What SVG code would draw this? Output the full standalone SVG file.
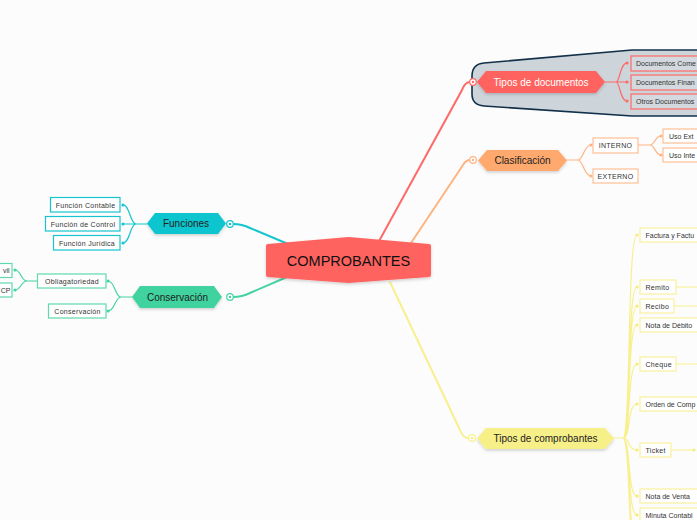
<svg xmlns="http://www.w3.org/2000/svg" width="697" height="520" viewBox="0 0 697 520">
<defs>
<filter id="sh" x="-20%" y="-30%" width="140%" height="170%">
<feDropShadow dx="0" dy="1.5" stdDeviation="1.5" flood-color="#000" flood-opacity="0.18"/>
</filter>
<style>
text{font-family:"Liberation Sans",Arial,sans-serif;fill:#333;}
.big{font-size:10px;text-anchor:middle;dominant-baseline:central;}
.sm{font-size:7px;letter-spacing:0.3px;dominant-baseline:central;}
.e{letter-spacing:0px;}
.c{text-anchor:middle;}
.ln{fill:none;stroke-width:1.2;stroke-linecap:round;}
.mn{fill:none;stroke-width:2;stroke-linecap:round;}
.r{stroke:#ff6a67;} .o{stroke:#ffb383;} .t{stroke:#14c5cf;} .g{stroke:#46d3a2;} .y{stroke:#f8f08e;}
.bx{stroke-width:1.2;}
.port{fill:#fff;stroke-width:1.2;}
</style>
</defs>
<rect width="697" height="520" fill="#fcfcfc"/>

<path d="M700,50 L632,50 L484,63 Q472,64 472,76 L472,94 Q472,105 484,106 L632,116 L700,116" fill="#cdd4da" stroke="#12304a" stroke-width="1.6"/>

<g id="connectors">
<path class="mn r" d="M378,243 L462,90 Q465,82 470,82"/>
<path class="mn o" d="M411,243 L463,165 Q466,160 470,160"/>
<path class="mn y" d="M390,282 L460,430 Q463,438 468,438"/>
<path class="mn t" d="M233,224 Q242,224 250,228 L288,244"/>
<path class="mn g" d="M233,297 Q242,297 250,293 L287,277"/>
<path class="ln r" d="M605,82 H616 M616,82 C620,82 620,63 627,63 M616,82 H627 M616,82 C620,82 620,101 627,101"/>
<path class="ln o" d="M567,160 H578 C583,160 584,145 591,145 M578,160 C583,160 584,176 591,176"/>
<path class="ln o" d="M638,145 H650 C655,145 655,136 661,136 M650,145 C655,145 655,155 661,155"/>
<path class="ln t" d="M147,224 H136 C130,224 130,205 123,205 M136,224 H123 M136,224 C130,224 130,243 123,243"/>
<path class="ln g" d="M132,297 H121 C115,297 115,281 108,281 M121,297 C115,297 115,311 108,311"/>
<path class="ln g" d="M37,281 H27 C21,281 21,270 15,270 M27,281 C21,281 21,290 15,290"/>
<path class="ln y" d="M614,438 H623 M623,438 C631,438 627,235 637,235 M623,438 C631,438 627,287 637,287 M623,438 C631,438 627,306 637,306 M623,438 C631,438 627,325 637,325 M623,438 C631,438 627,364 637,364 M623,438 C631,438 627,404 637,404 M623,438 C631,438 627,450 637,450 M623,438 C631,438 627,496 637,496 M623,438 C631,438 627,515 637,515 M623,438 C631,438 627,540 637,540 M623,438 C631,438 627,560 637,560"/>
<path class="ln y" d="M676,287 H697 M674,306 H697 M676,364 H697 M671,450 H694"/>
<g fill="#ff6a67"><circle cx="627" cy="63" r="1.6"/><circle cx="627" cy="82" r="1.6"/><circle cx="627" cy="101" r="1.6"/></g>
<g fill="#ffb383"><circle cx="591" cy="145" r="1.6"/><circle cx="591" cy="176" r="1.6"/><circle cx="661" cy="136" r="1.6"/><circle cx="661" cy="155" r="1.6"/></g>
<g fill="#14c5cf"><circle cx="123" cy="205" r="1.6"/><circle cx="123" cy="224" r="1.6"/><circle cx="123" cy="243" r="1.6"/></g>
<g fill="#46d3a2"><circle cx="108" cy="281" r="1.6"/><circle cx="108" cy="311" r="1.6"/><circle cx="15" cy="270" r="1.6"/><circle cx="15" cy="290" r="1.6"/></g>
<g fill="#f5ec7a"><circle cx="637" cy="235" r="1.6"/><circle cx="637" cy="287" r="1.6"/><circle cx="637" cy="306" r="1.6"/><circle cx="637" cy="325" r="1.6"/><circle cx="637" cy="364" r="1.6"/><circle cx="637" cy="404" r="1.6"/><circle cx="637" cy="450" r="1.6"/><circle cx="637" cy="496" r="1.6"/><circle cx="637" cy="515" r="1.6"/><circle cx="694" cy="450" r="1.6"/></g>
<circle class="port r" cx="473" cy="82" r="3.3"/><circle cx="473" cy="82" r="1.2" fill="#ff6a67"/>
<circle class="port o" cx="473" cy="160" r="3.3"/><circle cx="473" cy="160" r="1.2" fill="#ffb383"/>
<circle class="port t" cx="230" cy="224" r="3.3"/><circle cx="230" cy="224" r="1.2" fill="#14c5cf"/>
<circle class="port g" cx="230" cy="297" r="3.3"/><circle cx="230" cy="297" r="1.2" fill="#46d3a2"/>
<circle class="port y" cx="472" cy="438" r="3.3"/><circle cx="472" cy="438" r="1.2" fill="#f5ec7a"/>
</g>

<g id="comprobantes">
<path d="M268,246 L348.5,239 L429,246 L429,275 L348.5,281 L268,275 Z" fill="#ff6361" stroke="#ff6361" stroke-width="4" stroke-linejoin="round" filter="url(#sh)"/>
<text x="348.5" y="260.5" text-anchor="middle" dominant-baseline="central" font-size="14.5" style="fill:#111">COMPROBANTES</text>
</g>

<g id="tipos-documentos">
<path d="M477,82 L486,71 L596,71 L605,82 L596,93 L486,93 Z" fill="#ff6361" filter="url(#sh)"/>
<text class="big" x="541" y="82" style="fill:#fff">Tipos de documentos</text>
</g>
<g id="doc-comerciales"><rect class="bx" x="631" y="56" width="80" height="15" fill="#d3d9de" stroke="#ff6a67"/><text class="sm e" x="636" y="63.5">Documentos Come</text></g>
<g id="doc-financieros"><rect class="bx" x="631" y="75" width="80" height="15" fill="#d3d9de" stroke="#ff6a67"/><text class="sm e" x="636" y="82.5">Documentos Finan</text></g>
<g id="doc-otros"><rect class="bx" x="631" y="94" width="80" height="15" fill="#d3d9de" stroke="#ff6a67"/><text class="sm e" x="636" y="101.5">Otros Documentos</text></g>

<g id="clasificacion">
<path d="M478,160.5 L487,150 L558,150 L567,160.5 L558,171 L487,171 Z" fill="#ffa96e" filter="url(#sh)"/>
<text class="big" x="522.5" y="160.5" style="fill:#222">Clasificación</text>
</g>
<g id="interno"><rect class="bx" x="593" y="138" width="45" height="15" fill="#fff" stroke="#ffbf96"/><text class="sm c" x="615.5" y="145.5">INTERNO</text></g>
<g id="externo"><rect class="bx" x="593" y="169" width="45" height="14" fill="#fff" stroke="#ffbf96"/><text class="sm c" x="615.5" y="176">EXTERNO</text></g>
<g id="uso-externo"><rect class="bx" x="663" y="129" width="50" height="14" fill="#fff" stroke="#ffbf96"/><text class="sm e" x="669" y="136">Uso Ext</text></g>
<g id="uso-interno"><rect class="bx" x="663" y="148" width="50" height="14" fill="#fff" stroke="#ffbf96"/><text class="sm e" x="669" y="155">Uso Inte</text></g>

<g id="funciones">
<path d="M147,223.5 L155,213 L218,213 L226,223.5 L218,234 L155,234 Z" fill="#0cc5cf" filter="url(#sh)"/>
<text class="big" x="186" y="223.5" style="fill:#222">Funciones</text>
</g>
<g id="f-contable"><rect class="bx" x="50.5" y="197.5" width="69.5" height="14.5" fill="#fff" stroke="#14c5cf"/><text class="sm c" x="85.5" y="205">Función Contable</text></g>
<g id="f-control"><rect class="bx" x="45.5" y="216.5" width="74.5" height="14.5" fill="#fff" stroke="#14c5cf"/><text class="sm c" x="83" y="224">Función de Control</text></g>
<g id="f-juridica"><rect class="bx" x="53.5" y="235.5" width="66.5" height="14.5" fill="#fff" stroke="#14c5cf"/><text class="sm c" x="87" y="243">Función Jurídica</text></g>

<g id="conservacion">
<path d="M132,297 L140,286 L214,286 L222,297 L214,308 L140,308 Z" fill="#41d39f" filter="url(#sh)"/>
<text class="big" x="177.5" y="297" style="fill:#222">Conservación</text>
</g>
<g id="obligatoriedad"><rect class="bx" x="37.5" y="274" width="68.5" height="14" fill="#fff" stroke="#5fd9ad"/><text class="sm c" x="72" y="281">Obliagatoriedad</text></g>
<g id="conservacion-hijo"><rect class="bx" x="48.5" y="304" width="57.5" height="14" fill="#fff" stroke="#5fd9ad"/><text class="sm c" x="77.5" y="311">Conservación</text></g>
<g id="civil"><rect class="bx" x="-40" y="263.5" width="52" height="14" fill="#fff" stroke="#5fd9ad"/><text class="sm e" x="9.5" y="270.5" text-anchor="end">vil</text></g>
<g id="cp"><rect class="bx" x="-40" y="283" width="52" height="14" fill="#fff" stroke="#5fd9ad"/><text class="sm e" x="10.5" y="290" text-anchor="end">CP</text></g>

<g id="tipos-comprobantes">
<path d="M477,438.5 L486,428 L605,428 L614,438.5 L605,449 L486,449 Z" fill="#f7f089" filter="url(#sh)"/>
<text class="big" x="545.5" y="438.5" style="fill:#222">Tipos de comprobantes</text>
</g>
<g id="factura"><rect class="bx" x="640" y="228" width="70" height="14" fill="#fff" stroke="#f8f19c"/><text class="sm e" x="645.5" y="235">Factura y Factu</text></g>
<g id="remito"><rect class="bx" x="640" y="280" width="36" height="14" fill="#fff" stroke="#f8f19c"/><text class="sm" x="645.5" y="287">Remito</text></g>
<g id="recibo"><rect class="bx" x="640" y="299" width="34" height="14" fill="#fff" stroke="#f8f19c"/><text class="sm" x="645.5" y="306">Recibo</text></g>
<g id="nota-debito"><rect class="bx" x="640" y="318" width="70" height="14" fill="#fff" stroke="#f8f19c"/><text class="sm e" x="645.5" y="325">Nota de Débito</text></g>
<g id="cheque"><rect class="bx" x="640" y="357" width="36" height="14" fill="#fff" stroke="#f8f19c"/><text class="sm" x="645.5" y="364">Cheque</text></g>
<g id="orden-compra"><rect class="bx" x="640" y="397" width="70" height="14" fill="#fff" stroke="#f8f19c"/><text class="sm e" x="645.5" y="404">Orden de Comp</text></g>
<g id="ticket"><rect class="bx" x="640" y="443" width="31" height="14" fill="#fff" stroke="#f8f19c"/><text class="sm" x="645.5" y="450">Ticket</text></g>
<g id="nota-venta"><rect class="bx" x="640" y="489" width="70" height="14" fill="#fff" stroke="#f8f19c"/><text class="sm e" x="645.5" y="496">Nota de Venta</text></g>
<g id="minuta"><rect class="bx" x="640" y="508" width="70" height="14" fill="#fff" stroke="#f8f19c"/><text class="sm e" x="645.5" y="515">Minuta Contabl</text></g>
</svg>
